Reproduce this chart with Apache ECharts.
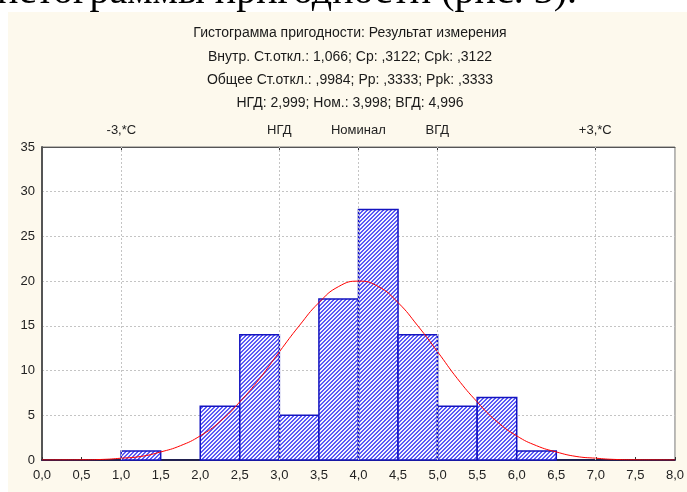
<!DOCTYPE html>
<html>
<head>
<meta charset="utf-8">
<script src="https://cdn.jsdelivr.net/npm/echarts@6/dist/echarts.min.js"></script>
<style>
  html, body { margin: 0; padding: 0; background: #fff; }
  #chart { width: 687px; height: 492px; }
</style>
</head>
<body>
<div id="chart"></div>
<script>
  // гистограмма: начало интервала, частота
  var binStarts = [0.0, 0.5, 1.0, 1.5, 2.0, 2.5, 3.0, 3.5, 4.0, 4.5, 5.0, 5.5, 6.0, 6.5, 7.0, 7.5];
  var binCounts = [0, 0, 1, 0, 6, 14, 5, 18, 28, 14, 6, 7, 1, 0, 0, 0];
  var binWidth = 0.5;

  // нормальная кривая
  var curveX = [0, 0.25, 0.5, 0.75, 1.0, 1.25, 1.5, 1.75, 2.0, 2.25, 2.5, 2.75, 3.0, 3.25, 3.5, 3.75, 4.0,
                4.25, 4.5, 4.75, 5.0, 5.25, 5.5, 5.75, 6.0, 6.25, 6.5, 6.75, 7.0, 7.25, 7.5, 7.75, 8.0];
  var curveY = [0.0, 0.01, 0.02, 0.06, 0.2, 0.4, 0.9, 1.6, 2.7, 4.3, 6.5, 9.1, 12.1, 15.0, 17.6, 19.4, 20.0,
                19.4, 17.6, 15.0, 12.1, 9.1, 6.5, 4.3, 2.7, 1.6, 0.9, 0.4, 0.2, 0.06, 0.02, 0.01, 0.0];

  // верхняя ось: -3σ, НГД, номинал, ВГД, +3σ
  var topTickValues = [1.003, 2.999, 3.998, 4.996, 6.993];
  var topTickLabels = ['-3,*C', 'НГД', 'Номинал', 'ВГД', '+3,*C'];

  var titleLines = [
    'Гистограмма пригодности: Результат измерения',
    'Внутр. Ст.откл.: 1,066; Cp: ,3122; Cpk: ,3122',
    'Общее Ст.откл.: ,9984; Pp: ,3333; Ppk: ,3333',
    'НГД: 2,999; Ном.: 3,998; ВГД: 4,996'
  ];

  // штриховка столбцов
  var hatch = document.createElement('canvas');
  hatch.width = 4; hatch.height = 4;
  var ctx = hatch.getContext('2d');
  ctx.fillStyle = '#f4f4ff';
  ctx.fillRect(0, 0, 4, 4);
  ctx.fillStyle = '#5a5af6';
  for (var px = 0; px < 4; px++) {
    for (var py = 0; py < 4; py++) {
      if ((px + py) % 4 < 2) ctx.fillRect(px, py, 1, 1);
    }
  }

  // [начало, частота, конец]
  var barData = binStarts.map(function (s, i) { return [s, binCounts[i], s + binWidth]; });
  var curveData = curveX.map(function (x, i) { return [x, curveY[i]]; });

  function renderBar(params, api) {
    var cnt = api.value(1);
    if (!(cnt > 0)) return null;
    var p1 = api.coord([api.value(0), cnt]);
    var p2 = api.coord([api.value(2), 0]);
    return {
      type: 'rect',
      shape: { x: p1[0], y: p1[1], width: p2[0] - p1[0], height: p2[1] - p1[1] },
      style: { fill: { image: hatch, repeat: 'repeat' }, stroke: '#1414c0', lineWidth: 1.5 }
    };
  }

  var myChart = echarts.init(document.getElementById('chart'));

  var graphics = [
    { type: 'rect', shape: { x: 8, y: 12, width: 679, height: 480 }, z: -20, style: { fill: '#fdf9ed' } },
    { type: 'text', left: -3, top: -28, z: -30,
      style: { text: 'истограммы пригодности (рис. 3).', fontFamily: 'Liberation Serif', fontSize: 40, fill: '#000' } }
  ];
  var lineY = [33, 57, 80, 103];
  titleLines.forEach(function (t, i) {
    graphics.push({
      type: 'text', x: 350, y: lineY[i], z: -10,
      style: { text: t, fontFamily: 'Liberation Sans', fontSize: 14, fill: '#1a1a1a', align: 'center', verticalAlign: 'middle' }
    });
  });

  myChart.setOption({
    animation: false,
    graphic: { elements: graphics, z: -1 },
    grid: {
      left: 42, right: 10, top: 147, bottom: 32,
      show: true, backgroundColor: '#ffffff', borderColor: '#777', borderWidth: 1
    },
    xAxis: [
      {
        type: 'value', position: 'bottom', min: 0, max: 8, interval: 0.5,
        axisLine: { lineStyle: { color: '#202050', width: 2 } },
        axisTick: { inside: true, length: 3, lineStyle: { color: '#333' } },
        axisLabel: {
          color: '#222', fontFamily: 'Liberation Sans', fontSize: 13, margin: 9,
          formatter: function (v) { return v.toFixed(1).replace('.', ','); }
        },
        splitLine: { show: false }
      },
      {
        type: 'value', position: 'top', min: 0, max: 8,
        axisLine: { show: true, lineStyle: { color: '#555', width: 1 } },
        axisTick: { show: true, inside: true, length: 3, customValues: topTickValues, lineStyle: { color: '#333' } },
        axisLabel: {
          color: '#222', fontFamily: 'Liberation Sans', fontSize: 13, margin: 10,
          customValues: topTickValues,
          formatter: function (v) {
            var idx = topTickValues.indexOf(v);
            return idx >= 0 ? topTickLabels[idx] : '';
          }
        },
        splitLine: { show: false }
      }
    ],
    yAxis: {
      type: 'value', min: 0, max: 35, interval: 5,
      axisLine: { show: true, lineStyle: { color: '#555', width: 2 } },
      axisTick: { show: false },
      axisLabel: { color: '#222', fontFamily: 'Liberation Sans', fontSize: 13, margin: 7 },
      splitLine: { lineStyle: { color: '#c4c4c4', type: [2, 2] } }
    },
    series: [
      {
        type: 'line', data: [], z: 1, silent: true,
        markLine: {
          symbol: 'none', silent: true, label: { show: false },
          lineStyle: { color: '#c4c4c4', type: [2, 2], width: 1 },
          data: topTickValues.map(function (v) { return { xAxis: v }; })
        }
      },
      {
        type: 'custom', renderItem: renderBar, data: barData, z: 2
      },
      {
        type: 'line', data: curveData, smooth: true, showSymbol: false, z: 3,
        lineStyle: { color: '#ff0000', width: 1 }
      }
    ]
  });

  window.addEventListener('resize', function () { myChart.resize(); });
</script>
</body>
</html>
